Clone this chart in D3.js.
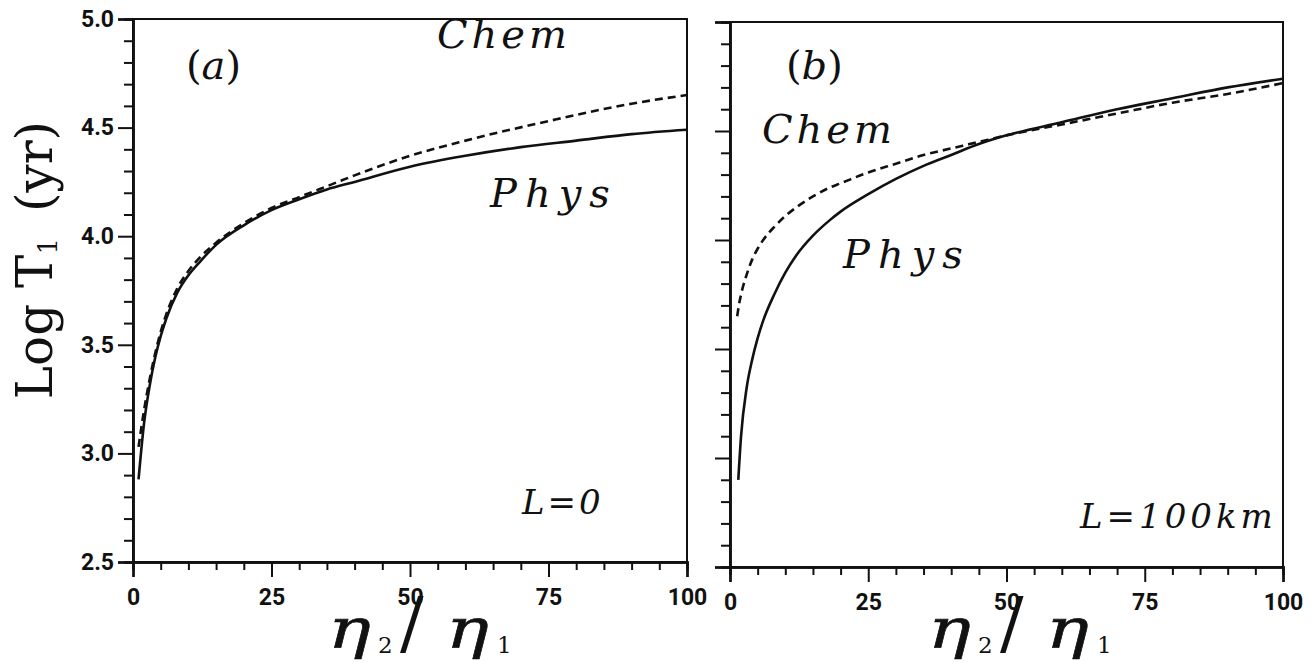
<!DOCTYPE html>
<html>
<head>
<meta charset="UTF-8">
<style>
  body { margin: 0; background: #fff; }
  svg { display: block; }
  .serif { font-family: 'DejaVu Serif', serif; fill: #111; }
  .ital { font-style: italic; }
</style>
</head>
<body>
<svg id="chart" width="1316" height="666"></svg>
<script src="https://cdn.jsdelivr.net/npm/d3@7"></script>
<script>
// eta2/eta1 ratios and Log T1 values
const physA_x = [1, 2, 3, 4, 5, 6, 8, 10, 12, 15, 20, 25, 30, 35, 40, 50, 60, 70, 80, 90, 100];
const physA_y = [2.88, 3.14, 3.31, 3.44, 3.54, 3.62, 3.74, 3.82, 3.88, 3.96, 4.05, 4.12, 4.17, 4.215, 4.25, 4.32, 4.37, 4.41, 4.44, 4.47, 4.49];
const chemA_x = [1, 2, 3, 4, 5, 6, 8, 10, 12, 15, 20, 25, 30, 35, 40, 50, 60, 75, 90, 100];
const chemA_y = [3.03, 3.20, 3.34, 3.46, 3.56, 3.64, 3.76, 3.84, 3.90, 3.97, 4.06, 4.13, 4.18, 4.23, 4.28, 4.37, 4.44, 4.53, 4.61, 4.65];

const physB_x = [1.5, 2, 3, 4, 5, 6, 8, 10, 12, 15, 18, 20, 25, 30, 35, 40, 45, 50, 60, 70, 80, 90, 100];
const physB_y = [2.90, 3.10, 3.32, 3.45, 3.55, 3.63, 3.75, 3.85, 3.93, 4.02, 4.09, 4.13, 4.21, 4.28, 4.34, 4.39, 4.44, 4.48, 4.54, 4.60, 4.65, 4.70, 4.74];
const chemB_x = [1.3, 1.6, 2, 2.5, 3, 4, 5, 6, 8, 10, 12, 15, 18, 20, 25, 30, 35, 40, 45, 50, 60, 70, 80, 90, 100];
const chemB_y = [3.65, 3.70, 3.75, 3.80, 3.84, 3.91, 3.96, 4.00, 4.06, 4.11, 4.15, 4.20, 4.24, 4.26, 4.31, 4.35, 4.39, 4.42, 4.45, 4.48, 4.53, 4.58, 4.63, 4.67, 4.72];

const xMajor = [0, 25, 50, 75, 100];
const xMinor = d3.range(0, 101, 5).filter(v => v % 25 !== 0);
const yMajor = [2.5, 3.0, 3.5, 4.0, 4.5, 5.0];
const yMinor = d3.range(25, 51, 1).map(v => v / 10).filter(v => Math.round(v * 10) % 5 !== 0);

const svg = d3.select("#chart");

const panels = [
  {left: 133, right: 687, top: 19, bottom: 562, labels: true, tag: "a",
   phys: physA_x.map((d, i) => [d, physA_y[i]]), chem: chemA_x.map((d, i) => [d, chemA_y[i]]),
   titleX: 328,
   chemText: [437, 48], physText: [490, 207], lText: "L=0", lPos: [522, 514], lSpace: 3, tagX: 186},
  {left: 730, right: 1283, top: 22, bottom: 567, labels: false, tag: "b",
   phys: physB_x.map((d, i) => [d, physB_y[i]]), chem: chemB_x.map((d, i) => [d, chemB_y[i]]),
   titleX: 928,
   chemText: [762, 143], physText: [843, 268], lText: "L=100km", lPos: [1080, 528], lSpace: 4, tagX: 786}
];

panels.forEach(p => {
  const x = d3.scaleLinear().domain([0, 100]).range([p.left, p.right]);
  const y = d3.scaleLinear().domain([2.5, 5.0]).range([p.bottom, p.top]);
  const g = svg.append("g");

  // frame
  g.append("rect")
    .attr("x", p.left).attr("y", p.top)
    .attr("width", p.right - p.left).attr("height", p.bottom - p.top)
    .attr("fill", "none").attr("stroke", "#111").attr("stroke-width", 2);

  // x axis: major and minor ticks pointing down
  const xMaj = g.append("g").attr("transform", `translate(0,${p.bottom})`)
    .call(d3.axisBottom(x).tickValues(xMajor).tickSize(15).tickPadding(12).tickFormat(d3.format("d")));
  const xMin = g.append("g").attr("transform", `translate(0,${p.bottom})`)
    .call(d3.axisBottom(x).tickValues(xMinor).tickSize(8).tickFormat(""));

  // y axis: ticks pointing left
  const yMaj = g.append("g").attr("transform", `translate(${p.left},0)`)
    .call(d3.axisLeft(y).tickValues(yMajor).tickSize(15).tickPadding(4)
      .tickFormat(p.labels ? d3.format(".1f") : ""));
  const yMin = g.append("g").attr("transform", `translate(${p.left},0)`)
    .call(d3.axisLeft(y).tickValues(yMinor).tickSize(9).tickFormat(""));

  [xMaj, xMin, yMaj, yMin].forEach(a => {
    a.attr("font-size", 23).attr("font-family", "Roboto, sans-serif");
    a.select(".domain").attr("stroke", "#111").attr("stroke-width", 2.5);
    a.selectAll(".tick line").attr("stroke", "#111").attr("stroke-width", 2);
    a.selectAll(".tick text").attr("fill", "#111").style("font-weight", "bold");
  });

  const line = d3.line().x(d => x(d[0])).y(d => y(d[1])).curve(d3.curveMonotoneX);

  g.append("path").datum(p.phys).attr("d", line)
    .attr("fill", "none").attr("stroke", "#111").attr("stroke-width", 2.6);
  g.append("path").datum(p.chem).attr("d", line)
    .attr("fill", "none").attr("stroke", "#111").attr("stroke-width", 2.6)
    .attr("stroke-dasharray", "8,5");

  // panel tag
  const tag = g.append("text").attr("class", "serif").attr("x", p.tagX).attr("y", 79).attr("font-size", 40);
  tag.append("tspan").text("(");
  tag.append("tspan").attr("class", "ital").text(p.tag);
  tag.append("tspan").text(")");

  g.append("text").attr("class", "serif ital")
    .attr("x", p.chemText[0]).attr("y", p.chemText[1])
    .attr("font-size", 40).attr("letter-spacing", 4).text("Chem");
  g.append("text").attr("class", "serif ital")
    .attr("x", p.physText[0]).attr("y", p.physText[1])
    .attr("font-size", 40).attr("letter-spacing", 8).text("Phys");
  g.append("text").attr("class", "serif ital")
    .attr("x", p.lPos[0]).attr("y", p.lPos[1])
    .attr("font-size", 34).attr("letter-spacing", p.lSpace).text(p.lText);

  // x title eta2/eta1
  const x0 = p.titleX;
  const eta = (dx) => g.append("text").attr("class", "serif ital")
    .attr("transform", `translate(${x0 + dx},648) scale(1.3,1)`)
    .attr("font-size", 55).attr("stroke", "#111").attr("stroke-width", 0.6).text("η");
  eta(0);
  g.append("text").attr("class", "serif").attr("font-size", 23)
    .attr("x", x0 + 50).attr("y", 653).text("2");
  g.append("text").attr("class", "serif").attr("font-size", 70)
    .attr("x", x0 + 72).attr("y", 647).text("/");
  eta(118);
  g.append("text").attr("class", "serif").attr("font-size", 23)
    .attr("x", x0 + 169).attr("y", 653).text("1");
});

// y title
const yt = svg.append("text").attr("class", "serif")
  .attr("transform", "translate(52,260) rotate(-90)")
  .attr("text-anchor", "middle").attr("font-size", 50);
yt.append("tspan").text("Log T");
yt.append("tspan").attr("font-size", 26).attr("dy", 5).text("1");
yt.append("tspan").attr("dy", -5).attr("dx", 26).text("(yr)");
</script>
</body>
</html>
